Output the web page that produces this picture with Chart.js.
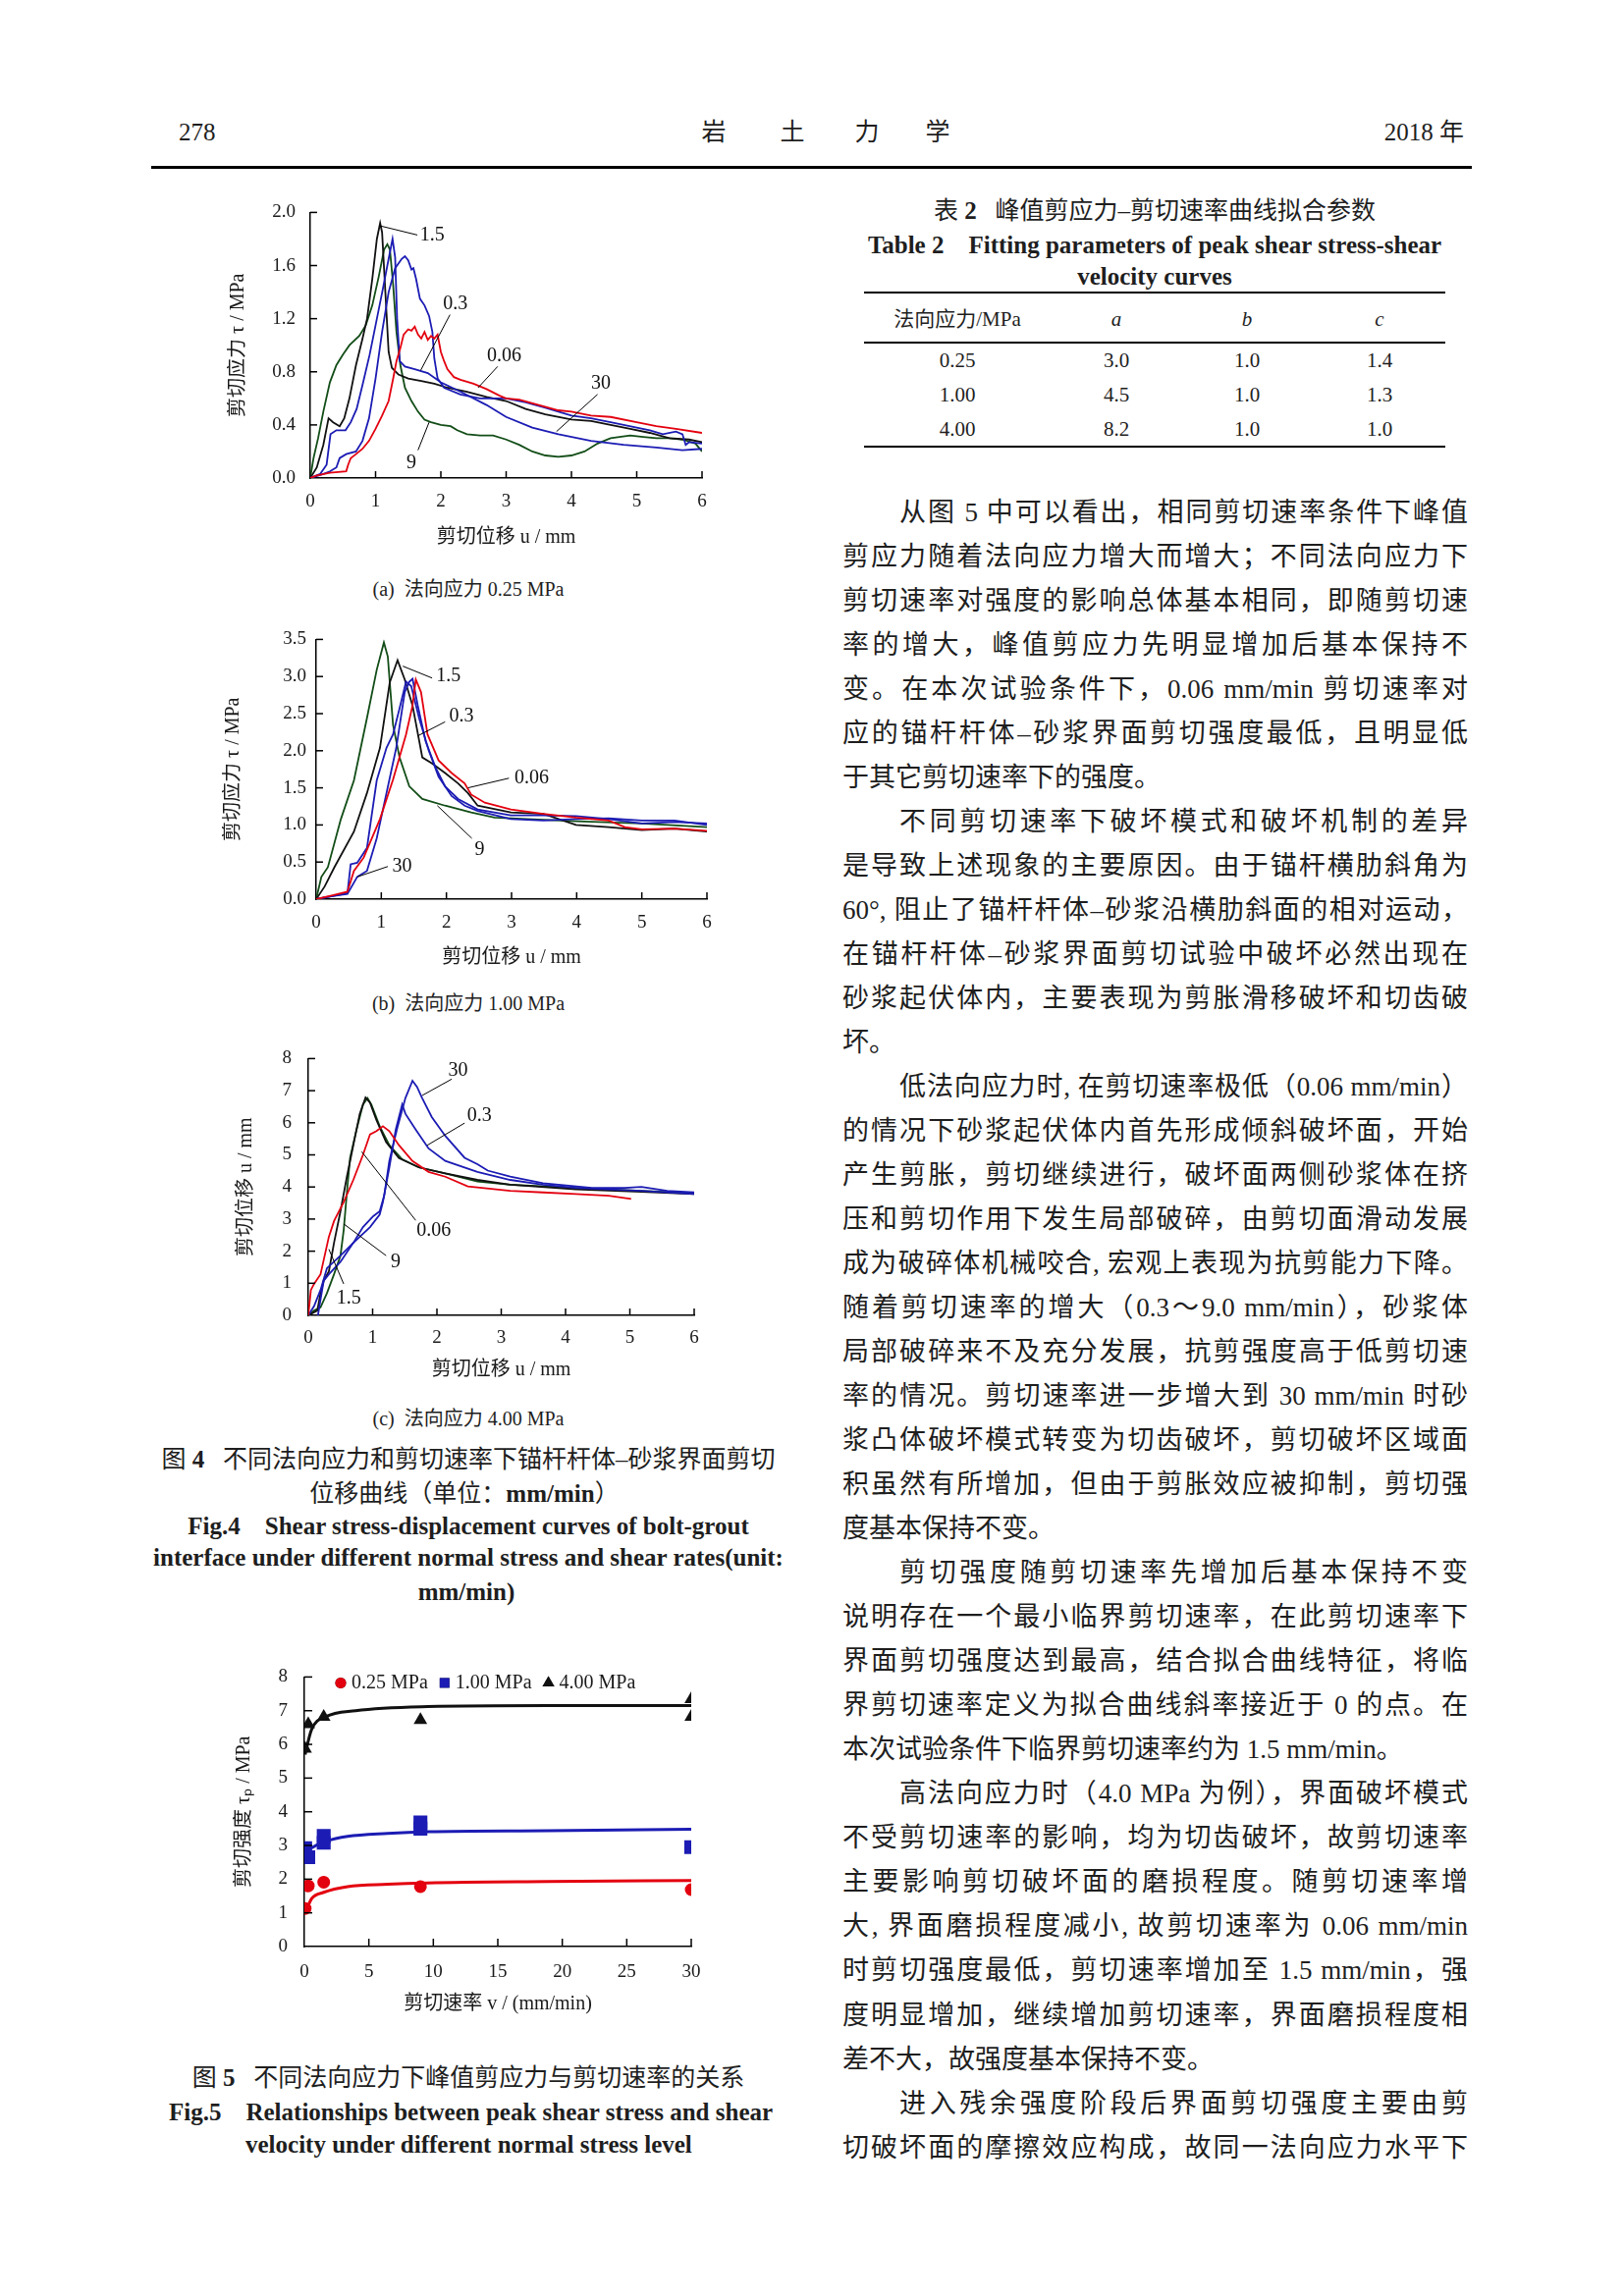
<!DOCTYPE html>
<html>
<head>
<meta charset="utf-8">
<script src="https://cdn.jsdelivr.net/npm/chart.js@4.4.1/dist/chart.umd.min.js"></script>
<style>
  html, body { margin: 0; padding: 0; background: #fff; }
  #page { position: relative; width: 1654px; height: 2339px; overflow: hidden; background: #fff; color: #1e1e1e;
          font-family: "Liberation Serif", "Noto Sans CJK SC", serif; }
  .abs { position: absolute; white-space: nowrap; }
  .ctr { transform: translateX(-50%); }
  canvas { position: absolute; }
  .sub { font-size: 20px; line-height: 24px; }
  .fcn { font-size: 25px; line-height: 30px; }
  .fen { font-size: 25px; line-height: 30px; font-weight: bold; }
  .txt { position: absolute; font-size: 27px; line-height: 45px; text-align: justify; text-align-last: justify; }
  .txt.end { text-align-last: left; }
  .rule { position: absolute; background: #000; }
  .cell { position: absolute; font-size: 21px; line-height: 26px; white-space: nowrap; transform: translateX(-50%); }
</style>
</head>
<body>
<div id="page">
  <!-- running head -->
  <div class="abs" style="left:182px;top:120px;font-size:25px;line-height:30px;">278</div>
  <div class="abs ctr" style="left:727px;top:120px;font-size:25px;line-height:30px;">岩</div>
  <div class="abs ctr" style="left:807px;top:120px;font-size:25px;line-height:30px;">土</div>
  <div class="abs ctr" style="left:883px;top:120px;font-size:25px;line-height:30px;">力</div>
  <div class="abs ctr" style="left:955px;top:120px;font-size:25px;line-height:30px;">学</div>
  <div class="abs" style="right:163px;top:120px;font-size:25px;line-height:30px;">2018 年</div>
  <div class="rule" style="left:154px;top:169px;width:1345px;height:3px;"></div>

  <!-- Fig. 4 -->
  <canvas id="figA" width="509" height="370" style="left:231px;top:190px;"></canvas>
  <div class="abs ctr sub" style="left:477px;top:588px;">(a)&nbsp; 法向应力 0.25 MPa</div>
  <canvas id="figB" width="519" height="358" style="left:226px;top:630px;"></canvas>
  <div class="abs ctr sub" style="left:477px;top:1010px;">(b)&nbsp; 法向应力 1.00 MPa</div>
  <canvas id="figC" width="493" height="358" style="left:239px;top:1050px;"></canvas>
  <div class="abs ctr sub" style="left:477px;top:1433px;">(c)&nbsp; 法向应力 4.00 MPa</div>

  <div class="abs ctr fcn" style="left:477px;top:1472px;">图 <b>4</b>&nbsp;&nbsp; 不同法向应力和剪切速率下锚杆杆体–砂浆界面剪切</div>
  <div class="abs ctr fcn" style="left:473px;top:1507px;">位移曲线（单位：<b>mm/min</b>）</div>
  <div class="abs ctr fen" style="left:477px;top:1540px;">Fig.4&nbsp;&nbsp;&nbsp; Shear stress-displacement curves of bolt-grout</div>
  <div class="abs ctr fen" style="left:477px;top:1572px;">interface under different normal stress and shear rates(unit:</div>
  <div class="abs ctr fen" style="left:475px;top:1607px;">mm/min)</div>

  <!-- Fig. 5 -->
  <canvas id="figD" width="493" height="374" style="left:237px;top:1680px;"></canvas>
  <div class="abs ctr fcn" style="left:477px;top:2102px;">图 <b>5</b>&nbsp;&nbsp; 不同法向应力下峰值剪应力与剪切速率的关系</div>
  <div class="abs fen" style="left:172px;top:2137px;">Fig.5&nbsp;&nbsp;&nbsp; Relationships between peak shear stress and shear</div>
  <div class="abs fen" style="left:250px;top:2170px;">velocity under different normal stress level</div>

  <!-- Table 2 -->
  <div class="abs ctr fcn" style="left:1176px;top:200px;">表 <b>2</b>&nbsp;&nbsp; 峰值剪应力–剪切速率曲线拟合参数</div>
  <div class="abs ctr fen" style="left:1176px;top:235px;">Table 2&nbsp;&nbsp;&nbsp; Fitting parameters of peak shear stress-shear</div>
  <div class="abs ctr fen" style="left:1176px;top:267px;">velocity curves</div>
  <div class="rule" style="left:880px;top:297px;width:592px;height:2px;"></div>
  <div class="rule" style="left:880px;top:348px;width:592px;height:1.5px;"></div>
  <div class="rule" style="left:880px;top:454px;width:592px;height:2px;"></div>
  <div id="tbl"></div>

  <div id="text"></div>
</div>

<script>
// ---- Fig.4 (a) 法向应力 0.25 MPa : [u, tau]
const a006 = [[0,0],[0.1,0.02],[0.3,0.04],[0.55,0.05],[0.58,0.1],[0.62,0.15],[0.7,0.18],[0.8,0.22],[0.9,0.28],[1.0,0.37],[1.1,0.47],[1.2,0.58],[1.27,0.75],[1.32,0.88],[1.38,0.98],[1.43,1.08],[1.5,1.12],[1.55,1.11],[1.6,1.14],[1.65,1.08],[1.7,1.05],[1.75,1.1],[1.8,1.04],[1.85,1.07],[1.9,1.05],[1.95,1.08],[2.0,0.95],[2.05,0.88],[2.1,0.82],[2.2,0.76],[2.3,0.74],[2.5,0.71],[2.7,0.67],[2.9,0.62],[3.0,0.6],[3.2,0.59],[3.5,0.55],[3.8,0.51],[4.0,0.5],[4.3,0.47],[4.6,0.46],[5.0,0.42],[5.3,0.39],[5.6,0.37],[6.0,0.34]];
const a03 = [[0,0],[0.15,0.03],[0.25,0.1],[0.31,0.33],[0.4,0.36],[0.54,0.36],[0.62,0.42],[0.71,0.52],[0.8,0.7],[0.91,0.93],[1.0,1.15],[1.11,1.42],[1.2,1.65],[1.26,1.8],[1.3,1.66],[1.33,1.2],[1.37,0.88],[1.45,0.84],[1.6,0.82],[1.8,0.79],[2.0,0.72],[2.3,0.65],[2.7,0.55],[3.0,0.46],[3.4,0.38],[3.8,0.33],[4.3,0.28],[4.8,0.25],[5.3,0.23],[5.7,0.21],[6.0,0.22]];
const a30 = [[0,0],[0.2,0.03],[0.3,0.05],[0.4,0.08],[0.45,0.15],[0.55,0.18],[0.7,0.2],[0.8,0.28],[0.9,0.45],[1.0,0.75],[1.1,1.1],[1.2,1.4],[1.3,1.58],[1.4,1.65],[1.45,1.67],[1.5,1.64],[1.55,1.57],[1.58,1.58],[1.62,1.5],[1.68,1.35],[1.75,1.3],[1.82,1.22],[1.87,1.1],[1.9,0.9],[1.95,0.75],[2.05,0.68],[2.3,0.63],[2.6,0.6],[3.0,0.6],[3.3,0.57],[3.6,0.53],[4.0,0.47],[4.3,0.45],[4.6,0.42],[5.0,0.38],[5.2,0.36],[5.4,0.33],[5.6,0.35],[5.7,0.33],[5.75,0.25],[5.8,0.27],[6.0,0.26]];
const a15 = [[0,0],[0.1,0.08],[0.2,0.25],[0.28,0.45],[0.35,0.42],[0.45,0.39],[0.52,0.45],[0.6,0.6],[0.7,0.85],[0.8,1.05],[0.87,1.2],[0.95,1.5],[1.02,1.8],[1.07,1.92],[1.1,1.85],[1.15,1.4],[1.2,0.95],[1.25,0.83],[1.35,0.78],[1.5,0.75],[1.7,0.73],[1.9,0.71],[2.1,0.68],[2.4,0.65],[2.7,0.61],[3.0,0.58],[3.3,0.52],[3.6,0.48],[4.0,0.44],[4.3,0.43],[4.6,0.4],[4.9,0.37],[5.2,0.34],[5.5,0.3],[5.8,0.29],[6.0,0.27]];
const a9 = [[0,0],[0.05,0.15],[0.12,0.3],[0.2,0.5],[0.3,0.72],[0.4,0.85],[0.5,0.93],[0.6,1.0],[0.75,1.07],[0.85,1.15],[0.95,1.3],[1.05,1.52],[1.13,1.72],[1.18,1.76],[1.22,1.72],[1.27,1.45],[1.32,1.1],[1.38,0.85],[1.45,0.68],[1.55,0.58],[1.65,0.5],[1.75,0.44],[1.85,0.42],[2.0,0.4],[2.15,0.39],[2.25,0.36],[2.4,0.33],[2.6,0.32],[2.8,0.32],[3.0,0.29],[3.2,0.25],[3.4,0.2],[3.6,0.17],[3.8,0.16],[4.0,0.17],[4.2,0.2],[4.4,0.26],[4.6,0.3],[4.9,0.32],[5.1,0.31],[5.3,0.3],[5.5,0.3],[5.7,0.29],[5.9,0.26],[6.0,0.2]];

// ---- Fig.4 (b) 法向应力 1.00 MPa
const b006 = [[0,0],[0.25,0.05],[0.48,0.1],[0.58,0.38],[0.73,0.56],[0.98,1.08],[1.18,1.61],[1.38,2.22],[1.48,2.61],[1.53,2.96],[1.61,2.79],[1.71,2.22],[1.88,1.87],[2.08,1.7],[2.28,1.56],[2.38,1.41],[2.59,1.3],[2.99,1.21],[3.49,1.15],[3.99,1.1],[4.49,1.06],[4.74,0.97],[5.0,0.94],[5.5,0.95],[6.0,0.92]];
const b03 = [[0,0],[0.25,0.04],[0.48,0.08],[0.53,0.47],[0.63,0.49],[0.78,0.69],[0.93,1.6],[1.08,2.04],[1.18,2.22],[1.28,2.57],[1.38,2.93],[1.46,2.87],[1.58,2.44],[1.73,2.0],[1.88,1.65],[2.08,1.39],[2.28,1.26],[2.48,1.19],[2.99,1.08],[3.49,1.06],[3.99,1.08],[4.49,1.09],[5.0,1.06],[5.5,1.06],[6.0,1.0]];
const b30 = [[0,0],[0.25,0.04],[0.48,0.07],[0.63,0.3],[0.78,0.38],[0.93,0.82],[1.08,1.43],[1.23,2.04],[1.36,2.79],[1.43,2.93],[1.48,2.97],[1.56,2.61],[1.68,2.13],[1.83,1.78],[1.98,1.52],[2.18,1.35],[2.48,1.21],[2.99,1.13],[3.49,1.13],[3.99,1.12],[4.49,1.08],[5.0,1.02],[5.5,1.04],[6.0,1.02]];
const b15 = [[0,0],[0.13,0.17],[0.28,0.43],[0.58,0.91],[0.78,1.43],[0.98,2.04],[1.13,2.92],[1.25,3.22],[1.36,2.96],[1.48,2.61],[1.63,1.91],[1.78,1.83],[1.98,1.7],[2.18,1.56],[2.33,1.43],[2.48,1.26],[2.99,1.17],[3.49,1.15],[3.99,1.0],[4.49,0.97],[5.0,0.93],[5.5,0.95],[6.0,0.91]];
const b9 = [[0,0],[0.08,0.3],[0.18,0.43],[0.38,1.08],[0.58,1.6],[0.78,2.44],[0.93,3.09],[1.04,3.46],[1.1,3.27],[1.18,2.35],[1.28,1.91],[1.43,1.52],[1.63,1.35],[1.98,1.26],[2.38,1.17],[2.74,1.1],[3.24,1.08],[4.0,1.05],[5.0,1.02],[6.0,0.97]];

// ---- Fig.4 (c) 法向应力 4.00 MPa
const c006 = [[0,0],[0.04,0.79],[0.09,0.98],[0.19,1.28],[0.32,2.45],[0.4,2.94],[0.55,3.53],[0.7,4.22],[0.85,5.0],[0.96,5.64],[1.06,5.74],[1.16,5.89],[1.26,5.74],[1.41,5.3],[1.62,4.81],[1.87,4.47],[2.13,4.32],[2.48,4.02],[3.14,3.88],[3.65,3.83],[4.16,3.78],[4.67,3.73],[5.02,3.63]];
const c03 = [[0,0],[0.09,0.29],[0.19,0.79],[0.29,1.47],[0.5,1.86],[0.7,2.26],[0.96,2.75],[1.11,3.14],[1.16,3.53],[1.26,4.61],[1.36,5.79],[1.46,6.57],[1.51,6.28],[1.67,5.79],[1.87,5.2],[2.13,4.81],[2.63,4.47],[3.14,4.22],[3.65,4.07],[4.16,3.97],[5.18,3.88],[6.0,3.78]];
const c30 = [[0.15,0],[0.19,0.49],[0.24,1.08],[0.32,1.28],[0.5,1.67],[0.7,2.26],[0.85,2.75],[1.01,3.09],[1.11,3.24],[1.18,3.73],[1.26,4.81],[1.39,5.89],[1.51,6.77],[1.62,7.31],[1.69,7.12],[1.77,6.77],[1.92,6.18],[2.13,5.59],[2.43,4.91],[2.63,4.71],[2.79,4.51],[3.14,4.32],[3.65,4.12],[4.41,3.97],[4.92,3.97],[5.18,4.0],[5.58,3.88],[6.0,3.83]];
const c15 = [[0,0],[0.14,0.15],[0.19,0.69],[0.24,1.08],[0.32,1.37],[0.4,2.26],[0.5,3.24],[0.6,4.32],[0.7,5.3],[0.8,6.28],[0.89,6.79],[0.96,6.62],[1.06,6.08],[1.21,5.4],[1.41,4.9],[1.72,4.61],[2.13,4.42],[2.63,4.22],[3.14,4.07],[4.16,3.93],[5.18,3.85],[6.0,3.78]];
const c9 = [[0,0],[0.09,0.15],[0.19,0.25],[0.29,0.69],[0.4,1.28],[0.5,1.86],[0.55,2.65],[0.6,3.83],[0.65,4.91],[0.75,5.79],[0.85,6.57],[0.92,6.77],[0.98,6.57],[1.11,5.89],[1.26,5.3],[1.46,4.86],[1.72,4.61],[2.13,4.42],[2.63,4.17],[3.14,4.07],[4.16,3.97],[5.18,3.88],[6.0,3.81]];

// ---- Fig.5 峰值剪应力 vs 剪切速率
const rates = [0.06, 0.3, 1.5, 9, 30];
const peak025 = [1.13, 1.80, 1.91, 1.78, 1.69];
const peak100 = [[0.06,2.92],[0.3,2.65],[1.5,3.08],[1.5,3.28],[9,3.5],[9,3.68],[30,2.95]];
const peak400 = [[0.06,5.87],[0.3,6.6],[1.5,6.82],[9,6.72],[30,7.34],[30,6.82]];
const fit025 = [[0.06,1.05],[0.15,1.09],[0.56,1.42],[1.5,1.61],[3.35,1.78],[6.46,1.85],[9.57,1.89],[18.9,1.93],[30,1.96]];
const fit100 = [[0.06,2.75],[0.1,2.79],[0.56,2.93],[1.65,3.12],[3.35,3.27],[6.46,3.36],[9.57,3.41],[18.9,3.44],[30,3.48]];
const fit400 = [[0.06,5.7],[0.1,5.77],[0.56,6.44],[1.65,6.82],[3.98,7.0],[9.57,7.12],[18.9,7.15],[30,7.15]];

// ---- Table 2
const tblHead = ['法向应力/MPa', 'a', 'b', 'c'];
const tblRows = [['0.25', '3.0', '1.0', '1.4'], ['1.00', '4.5', '1.0', '1.3'], ['4.00', '8.2', '1.0', '1.0']];

const RED = '#e3000f', BLUE = '#1c1cb4', BLACK = '#111111', GREEN = '#124d17';
const SERIF = "'Liberation Serif', 'Noto Sans CJK SC', serif";
Chart.defaults.font.family = SERIF;
Chart.defaults.color = '#1a1a1a';

function inwardTicks(len) {
    return {
        id: 'inwardTicks',
        afterDraw(chart) {
            const {ctx, chartArea: a, scales: {x, y}} = chart;
            ctx.save();
            ctx.strokeStyle = '#000';
            ctx.lineWidth = 1.5;
            x.ticks.forEach(t => {
                const px = x.getPixelForValue(t.value);
                if (px < a.left + 2) return;
                ctx.beginPath(); ctx.moveTo(px, a.bottom); ctx.lineTo(px, a.bottom - len); ctx.stroke();
            });
            y.ticks.forEach(t => {
                const py = y.getPixelForValue(t.value);
                if (py > a.bottom - 2) return;
                ctx.beginPath(); ctx.moveTo(a.left, py); ctx.lineTo(a.left + len, py); ctx.stroke();
            });
            ctx.restore();
        }
    };
}

// curve names with leader lines, placed in data units
function curveTags(tags) {
    return {
        id: 'curveTags',
        afterDatasetsDraw(chart) {
            const {ctx, scales: {x, y}} = chart;
            ctx.save();
            ctx.strokeStyle = '#000';
            ctx.lineWidth = 1;
            ctx.fillStyle = '#111';
            ctx.font = '20px ' + SERIF;
            ctx.textAlign = 'center';
            ctx.textBaseline = 'middle';
            tags.forEach(t => {
                ctx.beginPath();
                ctx.moveTo(x.getPixelForValue(t.line[0]), y.getPixelForValue(t.line[1]));
                ctx.lineTo(x.getPixelForValue(t.line[2]), y.getPixelForValue(t.line[3]));
                ctx.stroke();
                ctx.fillText(t.text, x.getPixelForValue(t.at[0]), y.getPixelForValue(t.at[1]));
            });
            ctx.restore();
        }
    };
}

function axisOpts(o) {
    return {
        x: {
            type: 'linear', min: 0, max: o.xMax,
            ticks: {stepSize: o.xStep, padding: o.xPad, font: {size: 19}, autoSkip: false, maxRotation: 0},
            grid: {display: false, drawTicks: false},
            border: {color: '#000', width: 1.5},
            title: {display: true, text: o.xTitle, font: {size: 20}, padding: 0},
            afterFit: s => { s.height = o.xH; }
        },
        y: {
            min: 0, max: o.yMax,
            ticks: {stepSize: o.yStep, padding: o.yPad, font: {size: 19}, autoSkip: false, callback: v => v.toFixed(o.yDec)},
            grid: {display: false, drawTicks: false},
            border: {color: '#000', width: 1.5},
            title: {display: true, text: o.yTitle, font: {size: 20}, padding: 0},
            afterFit: s => { s.width = o.yW; }
        }
    };
}

function curveChart(id, o, series, tags) {
    new Chart(document.getElementById(id), {
        type: 'line',
        data: {
            datasets: series.map(s => ({
                label: s.name,
                data: s.pts.map(p => ({x: p[0], y: p[1]})),
                borderColor: s.color, borderWidth: 1.8,
                pointRadius: 0, tension: 0, fill: false
            }))
        },
        options: {
            responsive: false, animation: false,
            layout: {padding: {top: o.pt, right: o.pr, left: 0, bottom: 0}},
            plugins: {legend: {display: false}, tooltip: {enabled: false}},
            scales: axisOpts(o)
        },
        plugins: [inwardTicks(7), curveTags(tags)]
    });
}

curveChart('figA',
    {xMax: 6, xStep: 1, yMax: 2.0, yStep: 0.4, yDec: 1, xTitle: '剪切位移 u / mm', yTitle: '剪切应力 τ / MPa',
     pt: 23, pr: 25, yW: 85, xH: 73, yPad: 15, xPad: 13},
    [{name: '0.06', pts: a006, color: RED}, {name: '0.3', pts: a03, color: BLUE}, {name: '30', pts: a30, color: BLUE},
     {name: '1.5', pts: a15, color: BLACK}, {name: '9', pts: a9, color: GREEN}],
    [{text: '1.5', at: [1.87, 1.83], line: [1.06, 1.9, 1.64, 1.83]},
     {text: '0.3', at: [2.22, 1.31], line: [2.14, 1.23, 1.69, 0.81]},
     {text: '0.06', at: [2.97, 0.92], line: [2.87, 0.84, 2.57, 0.68]},
     {text: '30', at: [4.45, 0.71], line: [4.4, 0.63, 3.77, 0.35]},
     {text: '9', at: [1.55, 0.11], line: [1.65, 0.21, 1.82, 0.42]}]);

curveChart('figB',
    {xMax: 6, xStep: 1, yMax: 3.5, yStep: 0.5, yDec: 1, xTitle: '剪切位移 u / mm', yTitle: '剪切应力 τ / MPa',
     pt: 19, pr: 25, yW: 96, xH: 72, yPad: 10, xPad: 13},
    [{name: '0.06', pts: b006, color: RED}, {name: '0.3', pts: b03, color: BLUE}, {name: '30', pts: b30, color: BLUE},
     {name: '1.5', pts: b15, color: BLACK}, {name: '9', pts: b9, color: GREEN}],
    [{text: '1.5', at: [2.03, 3.0], line: [1.33, 3.14, 1.78, 2.98]},
     {text: '0.3', at: [2.23, 2.47], line: [1.98, 2.39, 1.56, 2.2]},
     {text: '0.06', at: [3.31, 1.63], line: [2.96, 1.63, 2.33, 1.5]},
     {text: '9', at: [2.51, 0.66], line: [2.39, 0.82, 1.86, 1.26]},
     {text: '30', at: [1.32, 0.44], line: [1.1, 0.44, 0.63, 0.3]}]);

curveChart('figC',
    {xMax: 6, xStep: 1, yMax: 8, yStep: 1, yDec: 0, xTitle: '剪切位移 u / mm', yTitle: '剪切位移 u / mm',
     pt: 18, pr: 25, yW: 75, xH: 68, yPad: 17, xPad: 12},
    [{name: '0.06', pts: c006, color: RED}, {name: '0.3', pts: c03, color: BLUE}, {name: '30', pts: c30, color: BLUE},
     {name: '1.5', pts: c15, color: BLACK}, {name: '9', pts: c9, color: GREEN}],
    [{text: '30', at: [2.33, 7.61], line: [2.23, 7.36, 1.77, 6.85]},
     {text: '0.3', at: [2.66, 6.23], line: [2.43, 5.99, 1.85, 5.3]},
     {text: '0.06', at: [1.95, 2.65], line: [1.67, 2.96, 0.83, 5.1]},
     {text: '9', at: [1.36, 1.67], line: [1.21, 1.86, 0.55, 2.85]},
     {text: '1.5', at: [0.63, 0.54], line: [0.55, 0.98, 0.32, 2.06]}]);

// Fig.5 legend drawn inside the plot, from the first three datasets
const peakLegend = {
    id: 'peakLegend',
    afterDraw(chart) {
        const {ctx, chartArea: a} = chart;
        ctx.save();
        ctx.font = '20px ' + SERIF;
        ctx.textBaseline = 'middle';
        ctx.fillStyle = '#1a1a1a';
        let cx = a.left + 37;
        const cy = a.top + 6;
        chart.data.datasets.slice(0, 3).forEach(ds => {
            Chart.helpers.drawPoint(ctx, {pointStyle: ds.pointStyle, radius: ds.pointStyle === 'circle' ? 5.5 : 7, borderWidth: 0,
                                          rotation: 0}, cx, cy);
            ctx.fillStyle = ds.backgroundColor;
            ctx.fill();
            ctx.fillStyle = '#1a1a1a';
            ctx.fillText(ds.label, cx + 11, cy);
            cx += 11 + ctx.measureText(ds.label).width + 17;
        });
        ctx.restore();
    }
};

new Chart(document.getElementById('figD'), {
    type: 'scatter',
    data: {
        datasets: [
            {label: '0.25 MPa', data: rates.map((v, i) => ({x: v, y: peak025[i]})), pointStyle: 'circle', pointRadius: 6.5,
             backgroundColor: RED, borderColor: RED, borderWidth: 0},
            {label: '1.00 MPa', data: peak100.map(p => ({x: p[0], y: p[1]})), pointStyle: 'rect', pointRadius: 10,
             backgroundColor: BLUE, borderColor: BLUE, borderWidth: 0},
            {label: '4.00 MPa', data: peak400.map(p => ({x: p[0], y: p[1]})), pointStyle: 'triangle', pointRadius: 8,
             backgroundColor: BLACK, borderColor: BLACK, borderWidth: 0},
            {label: 'fit 0.25', data: fit025.map(p => ({x: p[0], y: p[1]})), showLine: true, pointRadius: 0,
             borderColor: RED, borderWidth: 3, cubicInterpolationMode: 'monotone'},
            {label: 'fit 1.00', data: fit100.map(p => ({x: p[0], y: p[1]})), showLine: true, pointRadius: 0,
             borderColor: BLUE, borderWidth: 3, cubicInterpolationMode: 'monotone'},
            {label: 'fit 4.00', data: fit400.map(p => ({x: p[0], y: p[1]})), showLine: true, pointRadius: 0,
             borderColor: BLACK, borderWidth: 3, cubicInterpolationMode: 'monotone'}
        ]
    },
    options: {
        responsive: false, animation: false,
        layout: {padding: {top: 22, right: 26, left: 0, bottom: 0}},
        plugins: {legend: {display: false}, tooltip: {enabled: false}},
        scales: axisOpts({xMax: 30, xStep: 5, yMax: 8, yStep: 1, yDec: 0,
                          xTitle: '剪切速率 v / (mm/min)', yTitle: '剪切强度 τₚ / MPa',
                          yW: 73, xH: 71, yPad: 17, xPad: 15})
    },
    plugins: [inwardTicks(8), peakLegend]
});

// ---- table cells
const colX = [975, 1137, 1270, 1405];
const tbl = document.getElementById('tbl');
tblHead.forEach((h, i) => {
    const d = document.createElement('div');
    d.className = 'cell';
    d.style.left = colX[i] + 'px';
    d.style.top = '312px';
    d.textContent = h;
    if (i > 0) d.style.fontStyle = 'italic';
    tbl.appendChild(d);
});
tblRows.forEach((r, j) => {
    r.forEach((v, i) => {
        const d = document.createElement('div');
        d.className = 'cell';
        d.style.left = colX[i] + 'px';
        d.style.top = (354 + j * 35) + 'px';
        d.textContent = v;
        tbl.appendChild(d);
    });
});

// ---- right column text: [indent, line, paragraph end]
const bodyLines = [
    [1, '从图 5 中可以看出，相同剪切速率条件下峰值', 0],
    [0, '剪应力随着法向应力增大而增大；不同法向应力下', 0],
    [0, '剪切速率对强度的影响总体基本相同，即随剪切速', 0],
    [0, '率的增大，峰值剪应力先明显增加后基本保持不', 0],
    [0, '变。在本次试验条件下，0.06 mm/min 剪切速率对', 0],
    [0, '应的锚杆杆体–砂浆界面剪切强度最低，且明显低', 0],
    [0, '于其它剪切速率下的强度。', 1],
    [1, '不同剪切速率下破坏模式和破坏机制的差异', 0],
    [0, '是导致上述现象的主要原因。由于锚杆横肋斜角为', 0],
    [0, '60°, 阻止了锚杆杆体–砂浆沿横肋斜面的相对运动，', 0],
    [0, '在锚杆杆体–砂浆界面剪切试验中破坏必然出现在', 0],
    [0, '砂浆起伏体内，主要表现为剪胀滑移破坏和切齿破', 0],
    [0, '坏。', 1],
    [1, '低法向应力时, 在剪切速率极低（0.06 mm/min）', 0],
    [0, '的情况下砂浆起伏体内首先形成倾斜破坏面，开始', 0],
    [0, '产生剪胀，剪切继续进行，破坏面两侧砂浆体在挤', 0],
    [0, '压和剪切作用下发生局部破碎，由剪切面滑动发展', 0],
    [0, '成为破碎体机械咬合, 宏观上表现为抗剪能力下降。', 0],
    [0, '随着剪切速率的增大（0.3～9.0 mm/min），砂浆体', 0],
    [0, '局部破碎来不及充分发展，抗剪强度高于低剪切速', 0],
    [0, '率的情况。剪切速率进一步增大到 30 mm/min 时砂', 0],
    [0, '浆凸体破坏模式转变为切齿破坏，剪切破坏区域面', 0],
    [0, '积虽然有所增加，但由于剪胀效应被抑制，剪切强', 0],
    [0, '度基本保持不变。', 1],
    [1, '剪切强度随剪切速率先增加后基本保持不变', 0],
    [0, '说明存在一个最小临界剪切速率，在此剪切速率下', 0],
    [0, '界面剪切强度达到最高，结合拟合曲线特征，将临', 0],
    [0, '界剪切速率定义为拟合曲线斜率接近于 0 的点。在', 0],
    [0, '本次试验条件下临界剪切速率约为 1.5 mm/min。', 1],
    [1, '高法向应力时（4.0 MPa 为例），界面破坏模式', 0],
    [0, '不受剪切速率的影响，均为切齿破坏，故剪切速率', 0],
    [0, '主要影响剪切破坏面的磨损程度。随剪切速率增', 0],
    [0, '大, 界面磨损程度减小, 故剪切速率为 0.06 mm/min', 0],
    [0, '时剪切强度最低，剪切速率增加至 1.5 mm/min，强', 0],
    [0, '度明显增加，继续增加剪切速率，界面磨损程度相', 0],
    [0, '差不大，故强度基本保持不变。', 1],
    [1, '进入残余强度阶段后界面剪切强度主要由剪', 0],
    [0, '切破坏面的摩擦效应构成，故同一法向应力水平下', 0]
];
const textBox = document.getElementById('text');
bodyLines.forEach((ln, i) => {
    const d = document.createElement('div');
    d.className = 'txt' + (ln[2] ? ' end' : '');
    const left = ln[0] ? 916 : 858;
    d.style.left = left + 'px';
    d.style.width = (1495 - left) + 'px';
    d.style.top = (522 + i * 45.03 - 22.5) + 'px';
    d.textContent = ln[1];
    textBox.appendChild(d);
});
</script>
</body>
</html>
